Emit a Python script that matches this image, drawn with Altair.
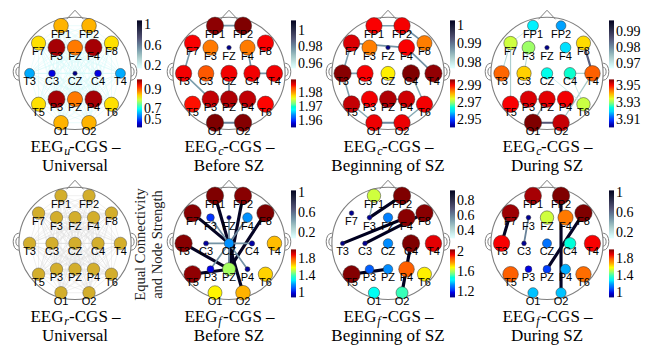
import itertools
import altair as alt
import pandas as pd

# ---------------- data ----------------
ELECTRODES = ["FP1", "FP2", "F7", "F3", "FZ", "F4", "F8", "T3", "C3", "CZ",
              "C4", "T4", "T5", "P3", "PZ", "P4", "T6", "O1", "O2"]
EX = [-0.25, 0.25, -0.65, -0.33, 0.0, 0.33, 0.65, -0.81, -0.41, 0.0,
      0.41, 0.81, -0.65, -0.33, 0.0, 0.33, 0.65, -0.25, 0.25]
EY = [0.85, 0.85, 0.54, 0.46, 0.46, 0.46, 0.54, 0.0, 0.0, 0.0,
      0.0, 0.0, -0.55, -0.46, -0.46, -0.46, -0.55, -0.88, -0.88]

# node strengths (colour bar values) per panel
V_U_UNIV = [0.864, 0.864, 0.841, 1.0, 0.895, 1.0, 0.841, 0.65, 0.552, 0.505,
            0.552, 0.65, 0.841, 1.0, 0.895, 1.0, 0.841, 0.864, 0.864]
V_C_BEFORE = [1.9895, 1.99, 1.9858, 1.9816, 1.9554, 1.9815, 1.9858, 1.986, 1.9834, 1.986,
              1.986, 1.986, 1.9855, 1.9876, 1.9883, 1.9877, 1.9856, 1.99, 1.9898]
V_C_BEGIN = [2.9904, 2.9907, 2.992, 2.9833, 2.9425, 2.9904, 2.9833, 2.9965, 2.9904, 2.9772,
             2.997, 2.9959, 2.9932, 2.9907, 2.9943, 2.9926, 2.9907, 2.991, 2.991]
V_C_DURING = [3.9218, 3.9174, 3.9339, 3.9312, 3.9026, 3.9207, 3.9383, 3.9455, 3.9389, 3.924,
              3.9257, 3.946, 3.9504, 3.952, 3.9515, 3.9507, 3.9336, 3.957, 3.9531]
V_R_UNIV = [1.0, 1.0, 1.0, 1.0, 1.0, 1.0, 1.0, 1.0, 1.0, 1.0,
            1.0, 1.0, 1.0, 1.0, 1.0, 1.0, 1.0, 1.0, 1.0]
V_F_BEFORE = [2.02, 2.009, 2.009, 1.068, 0.911, 1.197, 2.02, 2.01, 0.934, 1.197,
              0.945, 1.673, 2.0, 1.023, 1.505, 0.934, 1.65, 1.611, 1.684]
V_F_BEGIN = [1.657, 2.06, 1.119, 1.12, 1.34, 2.05, 2.05, 1.11, 1.12, 1.35,
             2.06, 1.964, 2.055, 1.292, 1.35, 1.868, 1.714, 1.474, 1.532]
V_F_DURING = [1.975, 2.02, 1.986, 0.922, 1.55, 1.751, 2.02, 1.886, 0.922, 1.158,
              1.37, 1.886, 1.796, 1.012, 1.079, 1.225, 1.774, 1.247, 1.247]

# edges (from, to, connectivity)
E_C_BEFORE = [("FP1", "FP2", 0.979), ("F7", "T3", 0.978), ("F4", "C4", 0.979),
              ("C4", "T4", 0.979), ("T3", "P3", 0.977), ("CZ", "PZ", 0.978),
              ("O1", "O2", 0.982)]
E_C_BEGIN = [("FP1", "FP2", 0.987), ("FP2", "F8", 0.988), ("F7", "F4", 0.988),
             ("F7", "T3", 0.987), ("F4", "T4", 0.988), ("T3", "C3", 0.987),
             ("T3", "T5", 0.987), ("C4", "T6", 0.986), ("PZ", "P4", 0.987),
             ("T5", "O1", 0.986), ("T6", "O2", 0.986), ("O1", "O2", 0.989)]
E_C_DURING = [("O1", "O2", 0.986), ("F8", "T4", 0.985), ("F7", "T3", 0.973),
              ("F7", "T5", 0.974), ("FP1", "F3", 0.972), ("F3", "C3", 0.973),
              ("C4", "T4", 0.974), ("T4", "O2", 0.975), ("CZ", "T6", 0.971),
              ("C4", "T6", 0.971), ("P3", "PZ", 0.976), ("PZ", "O1", 0.977),
              ("T5", "P3", 0.974), ("FP1", "F7", 0.971)]
E_F_BEFORE = [("FP1", "O2", 1.03), ("FP2", "PZ", 1.03), ("F7", "CZ", 1.03),
              ("F8", "PZ", 1.03), ("T3", "PZ", 1.03), ("T5", "PZ", 1.03),
              ("CZ", "F3", 0.5), ("CZ", "FZ", 0.5), ("CZ", "F4", 0.55),
              ("CZ", "C3", 0.5), ("CZ", "C4", 0.5), ("CZ", "P3", 0.5),
              ("CZ", "P4", 0.5), ("CZ", "PZ", 0.55)]
E_F_BEGIN = [("FP2", "F3", 0.95), ("F4", "T3", 0.95), ("F8", "C3", 0.95),
             ("T5", "PZ", 0.95), ("C4", "O2", 0.95), ("FP1", "F3", 0.5)]
E_F_DURING = [("F7", "T3", 1.03), ("FP2", "O2", 1.03), ("F8", "PZ", 1.03),
              ("F3", "C3", 0.55)]
UNIV_U_WEIGHT = 0.2

# colour bar domains and tick labels
FILL_DOM = {"u": [0.5, 1.02], "cb": [1.955, 1.99], "cg": [2.942, 2.997], "cd": [3.902, 3.957],
            "fb": [0.9, 2.02], "fg": [1.1, 2.06], "fd": [0.9, 2.02]}
FILL_TICKS = {"u": [0.5, 0.7, 0.9], "cb": [1.96, 1.97, 1.98], "cg": [2.95, 2.97, 2.99],
              "cd": [3.91, 3.93, 3.95], "fb": [1, 1.4, 1.8], "fg": [1.2, 1.6, 2], "fd": [1, 1.4, 1.8]}
EDGE_DOM = {"u": [0.15, 1.1], "cb": [0.955, 1.012], "cg": [0.977, 1.003], "cd": [0.9675, 0.997],
            "fb": [0.1, 1.05], "fg": [0.3, 0.95], "fd": [0.1, 1.05]}
EDGE_TICKS = {"u": [0.2, 0.6, 1], "cb": [0.96, 0.98, 1], "cg": [0.98, 0.99, 1],
              "cd": [0.97, 0.98, 0.99], "fb": [0.2, 0.6, 1], "fg": [0.4, 0.6, 0.8], "fd": [0.2, 0.6, 1]}

SUBS = ["u", "c", "c", "c", "r", "f", "f", "f"]
LINE2 = ["Universal", "Before SZ", "Beginning of SZ", "During SZ",
         "Universal", "Before SZ", "Beginning of SZ", "During SZ"]
SIDE_TITLE = ["Equal Connectivity", "and Node Strength"]

# ---------------- styling ----------------
JET = ["#00007f", "#0000ff", "#007fff", "#00ffff", "#7fff7f", "#ffff00", "#ff7f00", "#ff0000", "#7f0000"]
BONE_R = ["#ffffff", "#a6c7c7", "#545475", "#000000"]
BONE_POS = [0, 0.25, 0.625, 1]
GRAY = "#7f7f7f"
SERIF = "Liberation Serif"
SANS = "Liberation Sans"
UNIV_R_FILL = "#d3ae2c"

XD = [-1.15, 1.15]
YD = [-1.865, 1.13]
W, H = 129, 168
PX = 56.1
HEAD_SIZE = (2 * PX) ** 2
NOSE_PATH = "M -1 0.53 L 0 -0.53 L 1 0.53"
EAR_R = "M -0.3 -0.95 C 0.55 -0.95 0.55 0.95 -0.3 0.95 M -0.3 -0.5 C 0.15 -0.5 0.15 0.5 -0.3 0.5"
EAR_L = "M 0.3 -0.95 C -0.55 -0.95 -0.55 0.95 0.3 0.95 M 0.3 -0.5 C -0.15 -0.5 -0.15 0.5 0.3 0.5"

HEAD_DF = pd.DataFrame({"x": [0.0], "y": [0.0]})
NOSE_DF = pd.DataFrame({"x": [0.0], "y": [1.045]})
EAR_DF = pd.DataFrame({"x": [-1.048, 1.048], "y": [0.03, 0.03], "side": ["L", "R"]})

T_Y1, T_Y2, T_SUBY = -1.40, -1.74, -1.455
T_EEG_X, T_SUB_X, T_REST_X = -0.205, -0.19, -0.105


def enc_xy(yaxis):
    return {"x": alt.X("x:Q", scale=alt.Scale(domain=XD, nice=False, zero=False), axis=None),
            "y": alt.Y("y:Q", scale=alt.Scale(domain=YD, nice=False, zero=False), axis=yaxis)}


def leg(values, ly):
    return alt.Legend(orient="none", legendX=126.5, legendY=ly, direction="vertical", title=None,
                      values=values, format="~g", gradientLength=48, gradientThickness=5,
                      gradientStrokeWidth=0, labelOffset=2, labelFont=SERIF, labelFontSize=14,
                      labelColor="black", labelOverlap=False, padding=0)


def edge_df(edges):
    idx = {e: i for i, e in enumerate(ELECTRODES)}
    return pd.DataFrame([{"x": EX[idx[a]], "y": EY[idx[a]], "x2": EX[idx[b]], "y2": EY[idx[b]], "w": w}
                         for a, b, w in edges])


def all_pairs(w):
    return [(a, b, w) for a, b in itertools.combinations(ELECTRODES, 2)]


def panel(i, values, edges, key, all_w=None):
    yaxis = None
    if key is None:
        yaxis = alt.Axis(orient="right", title=SIDE_TITLE, labels=False, ticks=False, domain=False,
                         grid=False, titleAngle=270, titleFont=SERIF, titleFontSize=14.5,
                         titleFontWeight="normal", titleColor="#222222", titleX=-6, titleY=64,
                         titleAlign="center", titleBaseline="top", titleLineHeight=17)
    xy = enc_xy(yaxis)
    layers = []
    layers.append(alt.Chart(HEAD_DF).mark_point(shape="circle", filled=False, size=HEAD_SIZE,
                                                stroke=GRAY, strokeWidth=1.1, opacity=1).encode(**xy))
    layers.append(alt.Chart(NOSE_DF).mark_point(shape=NOSE_PATH, filled=False, size=289,
                                                stroke=GRAY, strokeWidth=1, opacity=1).encode(**xy))
    layers.append(alt.Chart(EAR_DF).mark_point(filled=False, size=324, stroke=GRAY, strokeWidth=1,
                                               opacity=1).encode(
        **xy, shape=alt.Shape("side:N", scale=alt.Scale(domain=["L", "R"], range=[EAR_L, EAR_R]), legend=None)))

    if key is None:
        ed = edge_df(all_pairs(1.0))
        layers.append(alt.Chart(ed).mark_rule(stroke="#e0e0e0", strokeWidth=0.5).encode(
            **xy, x2="x2:Q", y2="y2:Q"))
    else:
        lo, hi = EDGE_DOM[key]
        sdom = [lo + p * (hi - lo) for p in BONE_POS]
        stroke = alt.Stroke("w:Q", scale=alt.Scale(domain=sdom, range=BONE_R, nice=False, zero=False),
                            legend=leg(EDGE_TICKS[key], 10.4))
        if all_w is not None:
            ed = edge_df(all_pairs(all_w))
            layers.append(alt.Chart(ed).mark_rule(strokeWidth=0.5).encode(
                **xy, x2="x2:Q", y2="y2:Q", stroke=stroke))
        else:
            ed = edge_df(edges)
            layers.append(alt.Chart(ed).mark_rule(strokeCap="round").encode(
                **xy, x2="x2:Q", y2="y2:Q", stroke=stroke,
                strokeWidth=alt.StrokeWidth("w:Q", scale=alt.Scale(domain=[lo, hi], range=[0.6, 3.2], zero=False),
                                            legend=None)))

    nd = pd.DataFrame({"e": ELECTRODES, "x": EX, "y": EY, "v": values})
    if key is None:
        layers.append(alt.Chart(nd).mark_point(shape="circle", filled=True, opacity=1, fill=UNIV_R_FILL,
                                               size=155, stroke="#555555", strokeWidth=0.5).encode(**xy))
    else:
        lo, hi = FILL_DOM[key]
        jdom = [lo + k * (hi - lo) / 8 for k in range(9)]
        layers.append(alt.Chart(nd).mark_point(shape="circle", filled=True, opacity=1,
                                               stroke="#333333", strokeWidth=0.5).encode(
            **xy,
            fill=alt.Fill("v:Q", scale=alt.Scale(domain=jdom, range=JET, nice=False, zero=False),
                          legend=leg(FILL_TICKS[key], 69.4)),
            size=alt.Size("v:Q", scale=alt.Scale(domain=[lo, hi], range=[16, 300], zero=False), legend=None)))
    layers.append(alt.Chart(nd).mark_text(dy=9, fontSize=11, font=SANS, color="black").encode(
        **xy, text="e:N"))

    t1 = pd.DataFrame({"x": [T_EEG_X], "y": [T_Y1], "t": ["EEG"]})
    ts = pd.DataFrame({"x": [T_SUB_X], "y": [T_SUBY], "t": [SUBS[i]]})
    tr = pd.DataFrame({"x": [T_REST_X], "y": [T_Y1], "t": ["-CGS \u2013"]})
    t2 = pd.DataFrame({"x": [0.0], "y": [T_Y2], "t": [LINE2[i]]})
    layers.append(alt.Chart(t1).mark_text(align="right", baseline="alphabetic", font=SERIF, fontSize=17,
                                          color="black").encode(**xy, text="t:N"))
    layers.append(alt.Chart(ts).mark_text(align="left", baseline="alphabetic", font=SERIF, fontSize=12,
                                          fontStyle="italic", color="black").encode(**xy, text="t:N"))
    layers.append(alt.Chart(tr).mark_text(align="left", baseline="alphabetic", font=SERIF, fontSize=17,
                                          color="black").encode(**xy, text="t:N"))
    layers.append(alt.Chart(t2).mark_text(align="center", baseline="alphabetic", font=SERIF, fontSize=17,
                                          color="black").encode(**xy, text="t:N"))
    return alt.layer(*layers).properties(width=W, height=H)


RES = dict(x="independent", y="independent", fill="independent", stroke="independent",
           size="independent", strokeWidth="independent", shape="independent")

top = [panel(0, V_U_UNIV, None, "u", all_w=UNIV_U_WEIGHT),
       panel(1, V_C_BEFORE, E_C_BEFORE, "cb"),
       panel(2, V_C_BEGIN, E_C_BEGIN, "cg"),
       panel(3, V_C_DURING, E_C_DURING, "cd")]
bottom = [panel(4, V_R_UNIV, None, None),
          panel(5, V_F_BEFORE, E_F_BEFORE, "fb"),
          panel(6, V_F_BEGIN, E_F_BEGIN, "fg"),
          panel(7, V_F_DURING, E_F_DURING, "fd")]

cols = [alt.vconcat(top[k], bottom[k], spacing=0).resolve_scale(**RES)
        .resolve_legend(fill="independent", stroke="independent") for k in range(4)]

chart = (alt.hconcat(*cols, spacing=0).resolve_scale(**RES)
         .resolve_legend(fill="independent", stroke="independent")
         .properties(padding={"left": 2.5, "top": 0, "right": 0, "bottom": 0}, background="white")
         .configure_view(stroke=None))

chart.save("out.html", embed_options={"renderer": "svg", "actions": False})
